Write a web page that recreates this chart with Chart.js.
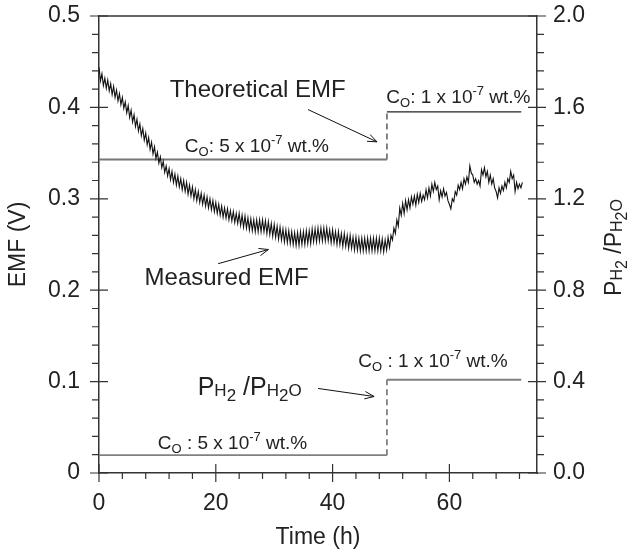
<!DOCTYPE html>
<html>
<head>
<meta charset="utf-8">
<script src="https://cdn.jsdelivr.net/npm/chart.js@4.4.0/dist/chart.umd.min.js"></script>
<style>
html, body { margin: 0; padding: 0; background: #fff; }
</style>
</head>
<body>
<canvas id="emfChart" width="632" height="554"></canvas>
<script>
// measured EMF, read every 0.25 h from the plot (4 values per hour)
var sampleStep = 0.25;
var measuredEmf = [
  0.444, 0.429, 0.437, 0.424,  0.432, 0.421, 0.430, 0.418,  0.426, 0.414, 0.423, 0.411,
  0.419, 0.407, 0.415, 0.403,  0.411, 0.399, 0.406, 0.394,  0.402, 0.389, 0.397, 0.384,
  0.392, 0.379, 0.387, 0.374,  0.382, 0.369, 0.377, 0.364,  0.372, 0.359, 0.367, 0.354,
  0.362, 0.349, 0.357, 0.344,  0.351, 0.339, 0.346, 0.334,  0.341, 0.329, 0.336, 0.325,
  0.333, 0.321, 0.330, 0.318,  0.327, 0.315, 0.325, 0.313,  0.322, 0.310, 0.320, 0.308,
  0.318, 0.305, 0.315, 0.303,  0.313, 0.300, 0.310, 0.298,  0.308, 0.296, 0.306, 0.294,
  0.304, 0.292, 0.302, 0.290,  0.300, 0.288, 0.298, 0.286,  0.296, 0.284, 0.294, 0.282,
  0.292, 0.280, 0.290, 0.279,  0.289, 0.277, 0.287, 0.276,  0.286, 0.274, 0.284, 0.273,
  0.284, 0.271, 0.282, 0.269,  0.281, 0.268, 0.279, 0.266,  0.278, 0.265, 0.277, 0.264,
  0.277, 0.264, 0.277, 0.264,  0.277, 0.264, 0.276, 0.262,  0.275, 0.261, 0.273, 0.259,
  0.272, 0.258, 0.270, 0.256,  0.269, 0.255, 0.267, 0.253,  0.266, 0.252, 0.265, 0.251,
  0.264, 0.250, 0.263, 0.249,  0.263, 0.249, 0.264, 0.250,  0.264, 0.250, 0.265, 0.251,
  0.265, 0.251, 0.267, 0.253,  0.267, 0.253, 0.268, 0.254,  0.268, 0.254, 0.268, 0.254,
  0.268, 0.254, 0.266, 0.252,  0.266, 0.252, 0.264, 0.250,  0.264, 0.250, 0.262, 0.248,
  0.262, 0.248, 0.260, 0.246,  0.260, 0.246, 0.258, 0.244,  0.258, 0.244, 0.257, 0.243,
  0.257, 0.243, 0.257, 0.243,  0.257, 0.243, 0.257, 0.243,  0.257, 0.243, 0.257, 0.243,
  0.257, 0.243, 0.256, 0.242,  0.255, 0.244, 0.258, 0.247,  0.260, 0.255, 0.268, 0.262,
  0.277, 0.270, 0.290, 0.282,  0.295, 0.284, 0.298, 0.288,  0.299, 0.290, 0.302, 0.294,
  0.303, 0.293, 0.305, 0.296,  0.306, 0.297, 0.304, 0.299,  0.310, 0.301, 0.312, 0.303,
  0.316, 0.308, 0.318, 0.310,  0.314, 0.299, 0.309, 0.302,  0.311, 0.303, 0.307, 0.298,
  0.294, 0.289, 0.300, 0.297,  0.308, 0.304, 0.315, 0.310,  0.318, 0.311, 0.322, 0.316,
  0.324, 0.318, 0.336, 0.328,  0.326, 0.318, 0.322, 0.316,  0.320, 0.314, 0.332, 0.326,
  0.334, 0.324, 0.330, 0.318,  0.326, 0.316, 0.322, 0.312,  0.308, 0.301, 0.312, 0.306,
  0.314, 0.309, 0.318, 0.312,  0.322, 0.318, 0.330, 0.322,  0.326, 0.308, 0.318, 0.311,
  0.316, 0.312, 0.318
];
var measuredHours = measuredEmf.map(function (v, i) { return i * sampleStep; });

// theoretical EMF step (left axis)
var theoHours = [0, 49.3, 49.3, 72.3];
var theoEmf = [0.343, 0.343, 0.395, 0.395];

// PH2/PH2O step (right axis)
var ratioHours = [0, 49.3, 49.3, 72.3];
var ratioValues = [0.078, 0.078, 0.408, 0.408];

var timeTickLabels = ['0', '20', '40', '60'];
var emfTickLabels = ['0', '0.1', '0.2', '0.3', '0.4', '0.5'];
var ratioTickLabels = ['0.0', '0.4', '0.8', '1.2', '1.6', '2.0'];

var FONT = "'Liberation Sans', Arial, sans-serif";
var INK = '#222';

function pts(xs, ys) {
  return xs.map(function (x, i) { return { x: x, y: ys[i] }; });
}
function isVertical(c) { return c.p0.parsed.x === c.p1.parsed.x; }

function coParts(n, spaced) {
  return [['C', 19, 0], ['O', 13, 4], [(spaced ? ' : ' : ': ') + n + ' x 10', 19, 0],
          ['-7', 13, -8], [' wt.%', 19, 0]];
}
function ratioParts(big, small) {
  return [['P', big, 0], ['H', small, 1], ['2', small, 6], [' /P', big, 0],
          ['H', small, 1], ['2', small, 6], ['O', small, 1]];
}

var notes = [
  { x: 12.1, y: 0.411, parts: [['Theoretical EMF', 24, 0]] },
  { x: 14.7, y: 0.3513, parts: coParts('5', false) },
  { x: 49.2, y: 0.405, parts: coParts('1', false) },
  { x: 44.4, y: 0.1156, parts: coParts('1', true) },
  { x: 10.07, y: 0.0264, parts: coParts('5', true) },
  { x: 16.9, y: 0.0848, parts: ratioParts(25, 17) },
  { x: 7.8, y: 0.206, parts: [['Measured EMF', 24, 0]] }
];
var arrows = [
  { x0: 35.8, y0: 0.3976, x1: 47.6, y1: 0.3623 },
  { x0: 37.5, y0: 0.0925, x1: 47.1, y1: 0.0837 },
  { x0: 20.4, y0: 0.229, x1: 29.0, y1: 0.2445 }
];

function drawRich(ctx, x, y, parts) {
  var cx = x;
  parts.forEach(function (p) {
    ctx.font = p[1] + 'px ' + FONT;
    ctx.fillText(p[0], cx, y + p[2]);
    cx += ctx.measureText(p[0]).width;
  });
}
function richWidth(ctx, parts) {
  var w = 0;
  parts.forEach(function (p) {
    ctx.font = p[1] + 'px ' + FONT;
    w += ctx.measureText(p[0]).width;
  });
  return w;
}

var extras = {
  id: 'extras',
  afterDraw: function (chart) {
    var ctx = chart.ctx, a = chart.chartArea;
    var sx = chart.scales.x, sy = chart.scales.y, sr = chart.scales.y1;
    ctx.save();
    ctx.strokeStyle = '#333';
    ctx.lineWidth = 1.5;
    // top frame line
    ctx.beginPath();
    ctx.moveTo(a.left, a.top);
    ctx.lineTo(a.right, a.top);
    ctx.stroke();
    // ticks: majors cross the axis, minors point out
    ctx.lineWidth = 1.2;
    ctx.beginPath();
    sx.ticks.forEach(function (t) {
      var px = sx.getPixelForValue(t.value);
      var major = t.label !== '';
      ctx.moveTo(px, a.bottom - (major ? 9 : 0));
      ctx.lineTo(px, a.bottom + (major ? 9 : 6));
    });
    sy.ticks.forEach(function (t) {
      var py = sy.getPixelForValue(t.value);
      var major = t.label !== '';
      ctx.moveTo(a.left - (major ? 9 : 7), py);
      ctx.lineTo(a.left + (major ? 9 : 0), py);
    });
    sr.ticks.forEach(function (t) {
      var py = sr.getPixelForValue(t.value);
      var major = t.label !== '';
      ctx.moveTo(a.right - (major ? 9 : 0), py);
      ctx.lineTo(a.right + (major ? 9 : 7), py);
    });
    ctx.stroke();

    // annotations
    ctx.fillStyle = INK;
    ctx.textBaseline = 'alphabetic';
    ctx.textAlign = 'left';
    notes.forEach(function (n) {
      drawRich(ctx, sx.getPixelForValue(n.x), sy.getPixelForValue(n.y), n.parts);
    });
    ctx.strokeStyle = '#111';
    ctx.lineWidth = 1;
    arrows.forEach(function (r) {
      var x0 = sx.getPixelForValue(r.x0), y0 = sy.getPixelForValue(r.y0);
      var x1 = sx.getPixelForValue(r.x1), y1 = sy.getPixelForValue(r.y1);
      var ang = Math.atan2(y1 - y0, x1 - x0), h = 10, s = 0.38;
      ctx.beginPath();
      ctx.moveTo(x0, y0);
      ctx.lineTo(x1, y1);
      ctx.moveTo(x1 - h * Math.cos(ang - s), y1 - h * Math.sin(ang - s));
      ctx.lineTo(x1, y1);
      ctx.lineTo(x1 - h * Math.cos(ang + s), y1 - h * Math.sin(ang + s));
      ctx.stroke();
    });

    // right axis title with subscripts
    var parts = ratioParts(23, 16);
    var w = richWidth(ctx, parts);
    ctx.translate(621, (a.top + a.bottom) / 2 + 3);
    ctx.rotate(-Math.PI / 2);
    drawRich(ctx, -w / 2, 0, parts);
    ctx.restore();
  }
};

function pickLabel(list, v) {
  var r = Math.round(v * 100) / 100;
  for (var i = 0; i < list.length; i++) {
    if (parseFloat(list[i]) === r) return list[i];
  }
  return '';
}

// fixed box sizes so the plot area lands where the original frame is
function fixBox(w, h) {
  return function (s) {
    if (w) s.width = w;
    if (h) s.height = h;
    s.paddingTop = 0; s.paddingBottom = 0;
    s.paddingLeft = 0; s.paddingRight = 0;
  };
}

var tickFont = { family: FONT, size: 23 };

new Chart(document.getElementById('emfChart').getContext('2d'), {
  type: 'scatter',
  data: {
    datasets: [
      {
        label: 'Measured EMF',
        data: pts(measuredHours, measuredEmf),
        showLine: true,
        borderColor: '#111',
        borderWidth: 1.1,
        pointRadius: 0,
        yAxisID: 'y'
      },
      {
        label: 'Theoretical EMF',
        data: pts(theoHours, theoEmf),
        showLine: true,
        borderWidth: 1.8,
        borderColor: '#777',
        pointRadius: 0,
        yAxisID: 'y',
        segment: {
          borderDash: function (c) { return isVertical(c) ? [6, 4] : undefined; },
          borderColor: function (c) { return c.p0.parsed.x >= 49.3 && !isVertical(c) ? '#222' : '#777'; },
          borderWidth: function (c) { return c.p0.parsed.x >= 49.3 && !isVertical(c) ? 1.2 : 1.8; }
        }
      },
      {
        label: 'PH2/PH2O',
        data: pts(ratioHours, ratioValues),
        showLine: true,
        borderWidth: 1.8,
        borderColor: '#808080',
        pointRadius: 0,
        yAxisID: 'y1',
        segment: {
          borderDash: function (c) { return isVertical(c) ? [6, 4] : undefined; }
        }
      }
    ]
  },
  options: {
    responsive: false,
    animation: false,
    devicePixelRatio: 1,
    layout: { padding: { top: 16, bottom: 0, left: 0, right: 0 } },
    plugins: { legend: { display: false }, tooltip: { enabled: false } },
    scales: {
      x: {
        type: 'linear',
        min: 0,
        max: 75,
        afterFit: fixBox(0, 81),
        grid: { drawOnChartArea: false, drawTicks: false },
        border: { color: '#333', width: 1.5 },
        ticks: {
          stepSize: 4,
          includeBounds: false,
          autoSkip: false,
          maxRotation: 0,
          padding: 17,
          color: INK,
          font: tickFont,
          callback: function (v) { return timeTickLabels.indexOf(String(v)) >= 0 ? String(v) : ''; }
        },
        title: { display: true, text: 'Time (h)', color: INK, font: tickFont, padding: { top: 0, bottom: 3 } }
      },
      y: {
        position: 'left',
        min: 0,
        max: 0.5,
        afterFit: fixBox(99, 0),
        grid: { drawOnChartArea: false, drawTicks: false },
        border: { color: '#333', width: 1.5 },
        ticks: {
          stepSize: 0.02,
          autoSkip: false,
          padding: 19,
          color: INK,
          font: tickFont,
          callback: function (v) { return pickLabel(emfTickLabels, v); }
        },
        title: { display: true, text: 'EMF (V)', color: INK, font: tickFont, padding: { top: 5, bottom: 0 } }
      },
      y1: {
        position: 'right',
        min: 0,
        max: 2,
        afterFit: fixBox(95, 0),
        grid: { drawOnChartArea: false, drawTicks: false },
        border: { color: '#333', width: 1.5 },
        ticks: {
          stepSize: 0.08,
          autoSkip: false,
          padding: 16,
          color: INK,
          font: tickFont,
          callback: function (v) { return pickLabel(ratioTickLabels, v); }
        }
      }
    }
  },
  plugins: [extras]
});
</script>
</body>
</html>
